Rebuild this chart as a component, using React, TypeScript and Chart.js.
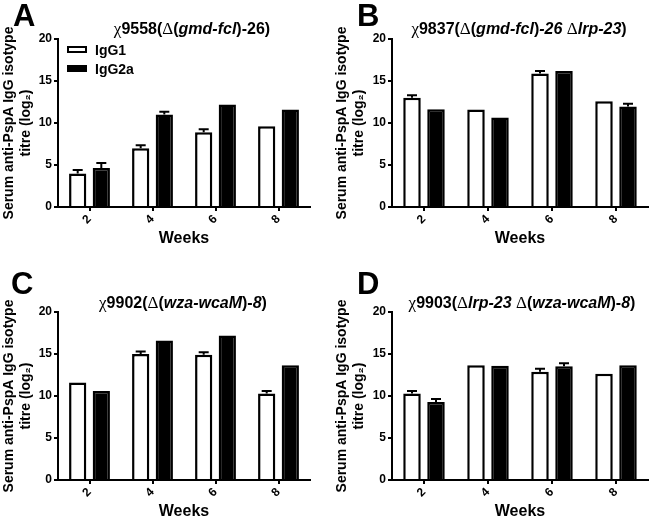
import React, { useEffect, useRef } from "react";
import { Chart, registerables } from "chart.js";

Chart.register(...registerables);

const weeks = ["2", "4", "6", "8"];
const seriesNames = ["IgG1", "IgG2a"];
const yTicks = [0, 5, 10, 15, 20];

const aIgG1 = [4.0, 7.0, 8.9, 9.6];
const aIgG1Err = [0.4, 0.35, 0.35, 0];
const aIgG2a = [4.65, 11.0, 12.2, 11.6];
const aIgG2aErr = [0.6, 0.35, 0, 0];

const bIgG1 = [13.0, 11.6, 15.9, 12.6];
const bIgG1Err = [0.3, 0, 0.3, 0];
const bIgG2a = [11.65, 10.65, 16.2, 11.95];
const bIgG2aErr = [0, 0, 0, 0.35];

const cIgG1 = [11.6, 15.0, 14.9, 10.3];
const cIgG1Err = [0, 0.3, 0.3, 0.3];
const cIgG2a = [10.6, 16.6, 17.2, 13.65];
const cIgG2aErr = [0, 0, 0, 0];

const dIgG1 = [10.3, 13.65, 12.9, 12.65];
const dIgG1Err = [0.3, 0, 0.35, 0];
const dIgG2a = [9.3, 13.6, 13.55, 13.65];
const dIgG2aErr = [0.35, 0, 0.35, 0];

type Seg = { t: string; s: "b" | "bi" | "g" };

const titleA: Seg[] = [
  { t: "χ", s: "g" }, { t: "9558(", s: "b" }, { t: "Δ", s: "g" }, { t: "(", s: "b" },
  { t: "gmd-fcl", s: "bi" }, { t: ")-26)", s: "b" },
];
const titleB: Seg[] = [
  { t: "χ", s: "g" }, { t: "9837(", s: "b" }, { t: "Δ", s: "g" }, { t: "(", s: "b" },
  { t: "gmd-fcl", s: "bi" }, { t: ")", s: "b" }, { t: "-26 ", s: "bi" }, { t: "Δ", s: "g" },
  { t: "lrp-23", s: "bi" }, { t: ")", s: "b" },
];
const titleC: Seg[] = [
  { t: "χ", s: "g" }, { t: "9902(", s: "b" }, { t: "Δ", s: "g" }, { t: "(", s: "b" },
  { t: "wza-wcaM", s: "bi" }, { t: ")-", s: "b" }, { t: "8", s: "bi" }, { t: ")", s: "b" },
];
const titleD: Seg[] = [
  { t: "χ", s: "g" }, { t: "9903(", s: "b" }, { t: "Δ", s: "g" }, { t: "lrp-23 ", s: "bi" },
  { t: "Δ", s: "g" }, { t: "(", s: "b" }, { t: "wza-wcaM", s: "bi" }, { t: ")-", s: "b" },
  { t: "8", s: "bi" }, { t: ")", s: "b" },
];

const FONT = "'Liberation Sans', Arial, sans-serif";

type Panel = {
  letter: string;
  title: Seg[];
  igg1: number[];
  igg1Err: number[];
  igg2a: number[];
  igg2aErr: number[];
  legend: boolean;
  left: number;
  top: number;
  w: number;
  h: number;
  pad: { top: number; bottom: number; left: number; right: number };
  yWidth: number;
  letterX: number;
  letterY: number;
  titleX: number;
  titleY: number;
};

const panels: Panel[] = [
  {
    letter: "A", title: titleA, igg1: aIgG1, igg1Err: aIgG1Err, igg2a: aIgG2a, igg2aErr: aIgG2aErr,
    legend: true, left: 0, top: 0, w: 325, h: 260,
    pad: { top: 39, bottom: 12, left: 0, right: 15 }, yWidth: 58,
    letterX: 13, letterY: 26, titleX: 192, titleY: 34,
  },
  {
    letter: "B", title: titleB, igg1: bIgG1, igg1Err: bIgG1Err, igg2a: bIgG2a, igg2aErr: bIgG2aErr,
    legend: false, left: 325, top: 0, w: 325, h: 260,
    pad: { top: 39, bottom: 12, left: 8, right: 2 }, yWidth: 59,
    letterX: 32, letterY: 26, titleX: 194, titleY: 34,
  },
  {
    letter: "C", title: titleC, igg1: cIgG1, igg1Err: cIgG1Err, igg2a: cIgG2a, igg2aErr: cIgG2aErr,
    legend: false, left: 0, top: 260, w: 325, h: 261,
    pad: { top: 52, bottom: 0, left: 0, right: 15 }, yWidth: 58,
    letterX: 11, letterY: 34, titleX: 183, titleY: 48,
  },
  {
    letter: "D", title: titleD, igg1: dIgG1, igg1Err: dIgG1Err, igg2a: dIgG2a, igg2aErr: dIgG2aErr,
    legend: false, left: 325, top: 260, w: 325, h: 261,
    pad: { top: 52, bottom: 0, left: 8, right: 2 }, yWidth: 59,
    letterX: 32, letterY: 34, titleX: 197, titleY: 48,
  },
];

function segFont(s: Seg["s"]) {
  if (s === "g") return `normal 17px 'Liberation Serif', 'DejaVu Serif', serif`;
  if (s === "bi") return `italic bold 16px ${FONT}`;
  return `bold 16px ${FONT}`;
}

const errorBarsPlugin = {
  id: "errorBars",
  afterDatasetsDraw(chart: any) {
    const ctx = chart.ctx;
    const yScale = chart.scales.y;
    ctx.save();
    ctx.strokeStyle = "#000";
    ctx.lineWidth = 2;
    chart.data.datasets.forEach((ds: any, di: number) => {
      const meta = chart.getDatasetMeta(di);
      meta.data.forEach((el: any, i: number) => {
        const e = ds.errors ? ds.errors[i] : 0;
        if (!e) return;
        const v = ds.data[i];
        const y1 = yScale.getPixelForValue(v);
        const y2 = yScale.getPixelForValue(v + e);
        ctx.beginPath();
        ctx.moveTo(el.x, y1);
        ctx.lineTo(el.x, y2);
        ctx.moveTo(el.x - 5, y2);
        ctx.lineTo(el.x + 5, y2);
        ctx.stroke();
      });
    });
    ctx.restore();
  },
};

const headerPlugin = {
  id: "panelHeader",
  afterDraw(chart: any, _args: any, opts: any) {
    const ctx = chart.ctx;
    ctx.save();
    ctx.fillStyle = "#000";
    ctx.textBaseline = "alphabetic";
    ctx.textAlign = "left";
    ctx.font = `bold 31px ${FONT}`;
    ctx.fillText(opts.letter, opts.letterX, opts.letterY);
    const segs: Seg[] = opts.title;
    let total = 0;
    const widths = segs.map((sg) => {
      ctx.font = segFont(sg.s);
      const w = ctx.measureText(sg.t).width;
      total += w;
      return w;
    });
    let x = opts.titleX - total / 2;
    segs.forEach((sg, i) => {
      ctx.font = segFont(sg.s);
      ctx.fillText(sg.t, x, opts.titleY);
      x += widths[i];
    });

    if (opts.legend) {
      const area = chart.chartArea;
      const bx = area.left + 9;
      const by = area.top + 7;
      const ds = chart.data.datasets;
      ds.forEach((d: any, i: number) => {
        const y = by + i * 19;
        ctx.fillStyle = d.backgroundColor;
        ctx.fillRect(bx, y, 20, 7);
        ctx.strokeStyle = d.borderColor;
        ctx.lineWidth = 2;
        ctx.strokeRect(bx + 1, y + 1, 18, 5);
        ctx.fillStyle = "#000";
        ctx.font = `bold 14px ${FONT}`;
        ctx.fillText(d.label, bx + 28, y + 9);
      });
    }
    ctx.restore();
  },
};

function PanelChart({ p }: { p: Panel }) {
  const ref = useRef<HTMLCanvasElement | null>(null);
  useEffect(() => {
    if (!ref.current) return;
    const tickFont = { family: FONT, size: 12, weight: "bold" as const };
    const chart = new Chart(ref.current, {
      type: "bar",
      data: {
        labels: weeks,
        datasets: [
          {
            label: seriesNames[0],
            data: p.igg1,
            errors: p.igg1Err,
            backgroundColor: "#ffffff",
            borderColor: "#000000",
            borderWidth: 2.5,
            borderSkipped: "start",
          } as any,
          {
            label: seriesNames[1],
            data: p.igg2a,
            errors: p.igg2aErr,
            backgroundColor: "#000000",
            borderColor: "#000000",
            borderWidth: 2.5,
            borderSkipped: "start",
          } as any,
        ],
      },
      options: {
        responsive: false,
        animation: false,
        categoryPercentage: 0.75,
        barPercentage: 0.73,
        layout: { padding: p.pad },
        scales: {
          x: {
            type: "category",
            offset: true,
            grid: {
              display: true,
              drawOnChartArea: false,
              drawTicks: true,
              tickLength: 4,
              lineWidth: 2,
              color: "#000",
              offset: false,
            },
            border: { display: true, color: "#000", width: 2, z: 1 },
            ticks: {
              color: "#000",
              font: tickFont,
              minRotation: 45,
              maxRotation: 45,
              padding: 1,
            },
            title: {
              display: true,
              text: "Weeks",
              color: "#000",
              font: { family: FONT, size: 16, weight: "bold" },
              padding: { top: 0, bottom: 0 },
            },
            afterFit: (s: any) => {
              s.height = 41;
            },
          },
          y: {
            min: 0,
            max: 20,
            afterBuildTicks: (s: any) => {
              s.ticks = yTicks.map((v) => ({ value: v }));
            },
            grid: {
              display: true,
              drawOnChartArea: false,
              drawTicks: true,
              tickLength: 4,
              lineWidth: 2,
              color: "#000",
            },
            border: { display: true, color: "#000", width: 2 },
            ticks: { color: "#000", font: tickFont, padding: 2 },
            title: {
              display: true,
              text: ["Serum anti-PspA IgG isotype", "titre (log₂)"],
              color: "#000",
              font: { family: FONT, size: 14, weight: "bold", lineHeight: 1.25 },
              padding: { top: 0, bottom: 0 },
            },
            afterFit: (s: any) => {
              s.width = p.yWidth;
            },
          },
        },
        plugins: {
          legend: { display: false },
          title: { display: false },
          tooltip: { enabled: false },
          panelHeader: {
            letter: p.letter,
            letterX: p.letterX,
            letterY: p.letterY,
            title: p.title,
            titleX: p.titleX,
            titleY: p.titleY,
            legend: p.legend,
          },
        } as any,
      },
      plugins: [errorBarsPlugin, headerPlugin],
    } as any);
    return () => chart.destroy();
  }, [p]);
  return (
    <canvas
      ref={ref}
      width={p.w}
      height={p.h}
      style={{ position: "absolute", left: p.left, top: p.top, width: p.w, height: p.h }}
    />
  );
}

export default function App() {
  return (
    <div style={{ position: "absolute", left: 0, top: 0, width: 650, height: 521, background: "#fff" }}>
      {panels.map((p) => (
        <PanelChart key={p.letter} p={p} />
      ))}
    </div>
  );
}
